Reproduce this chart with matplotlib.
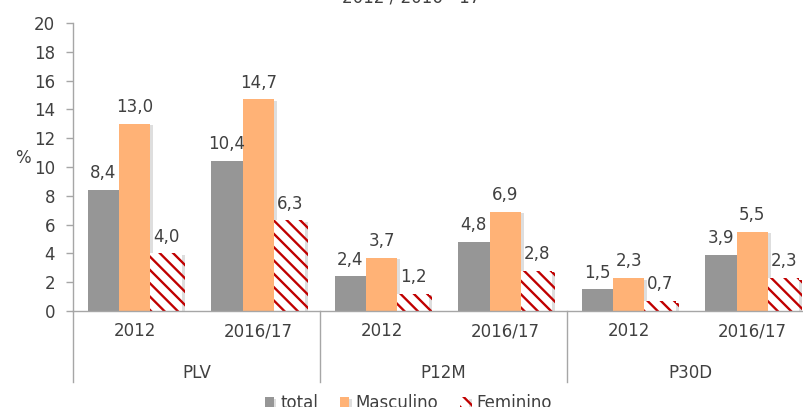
import matplotlib
matplotlib.use("Agg")
import matplotlib.pyplot as plt
import matplotlib.patheffects as pe
import matplotlib.transforms as mtransforms
import numpy as np

# data
groups = ["PLV", "P12M", "P30D"]
years = ["2012", "2016/17"]
tick_labels = years * len(groups)
total = [8.4, 10.4, 2.4, 4.8, 1.5, 3.9]
masculino = [13.0, 14.7, 3.7, 6.9, 2.3, 5.5]
feminino = [4.0, 6.3, 1.2, 2.8, 0.7, 2.3]
series_names = ["total", "Masculino", "Feminino"]

TEXT = "#404040"
GRID = "#a6a6a6"
DPI = 80          # 80 dpi so the hatch spacing matches the reference
FS = 15

plt.rcParams["font.family"] = ["DejaVu Sans"]
plt.rcParams["hatch.linewidth"] = 2.1

fig = plt.figure(figsize=(803 / DPI, 407 / DPI), dpi=DPI)
fig.patch.set_facecolor("white")
ax = fig.add_axes([73 / 803, 1 - 311 / 407, 741 / 803, 288 / 407])

x = np.arange(len(tick_labels))
w = 0.255
shadow = [pe.SimplePatchShadow(offset=(2.5, -1.5), shadow_rgbFace="#000000", alpha=0.13), pe.Normal()]

b1 = ax.bar(x - w, total, w, color="#969696", linewidth=0, label=series_names[0])
b2 = ax.bar(x, masculino, w, color="#ffb276", linewidth=0, label=series_names[1])
b3 = ax.bar(x + w, feminino, w, color="white", edgecolor="#c00000", hatch="\\\\",
            linewidth=0, label=series_names[2])
for bars in (b1, b2, b3):
    for p in bars:
        p.set_path_effects(shadow)

# value labels, comma decimal
for bars, vals in ((b1, total), (b2, masculino), (b3, feminino)):
    for p, v in zip(bars, vals):
        ax.annotate(f"{v:.1f}".replace(".", ","),
                    (p.get_x() + p.get_width() / 2, v),
                    xytext=(0, 10.6), textcoords="offset points",
                    ha="center", va="baseline", fontsize=FS, color=TEXT)

ax.set_ylim(0, 20)
ax.set_xlim(-0.5, len(tick_labels) - 0.5)
ax.set_yticks(range(0, 21, 2))
ax.set_xticks(x)
ax.set_xticklabels(tick_labels)
ax.tick_params(axis="x", length=0, pad=10, labelsize=FS, labelcolor=TEXT)
ax.tick_params(axis="y", length=6.25, width=1.25, color=GRID, pad=10, labelsize=FS, labelcolor=TEXT)

for s in ("top", "right"):
    ax.spines[s].set_visible(False)
for s in ("left", "bottom"):
    ax.spines[s].set_color(GRID)
    ax.spines[s].set_linewidth(1.25)

ax.set_ylabel("%", rotation=0, fontsize=FS, color=TEXT)
ax.yaxis.set_label_coords(-0.067, 0.5)

# group labels and separators under the axis
trans = mtransforms.blended_transform_factory(ax.transData, ax.transAxes)
for i, g in enumerate(groups):
    ax.text(2 * i + 0.5, -0.215, g, transform=trans, ha="center", va="center",
            fontsize=FS, color=TEXT)
for sx in (-0.5, 1.5, 3.5, 5.5):
    ax.plot([sx, sx], [0, -0.2465], transform=trans, color=GRID, lw=1.25, clip_on=False)

# title is mostly cut off at the top in the reference
fig.text(411 / 803, 1 - 3 / 407, "2012 / 2016 - 17", ha="center", va="baseline",
         fontsize=FS, color=TEXT)

fig.legend(handles=[b1, b2, b3], labels=series_names, loc="center",
           bbox_to_anchor=(408 / 803, 1 - 403 / 407), ncol=3, frameon=False,
           fontsize=FS, labelcolor=TEXT, handlelength=0.55, handleheight=0.55,
           handletextpad=0.4, columnspacing=1.3)

fig.savefig("out.png", dpi=DPI, facecolor="white")
